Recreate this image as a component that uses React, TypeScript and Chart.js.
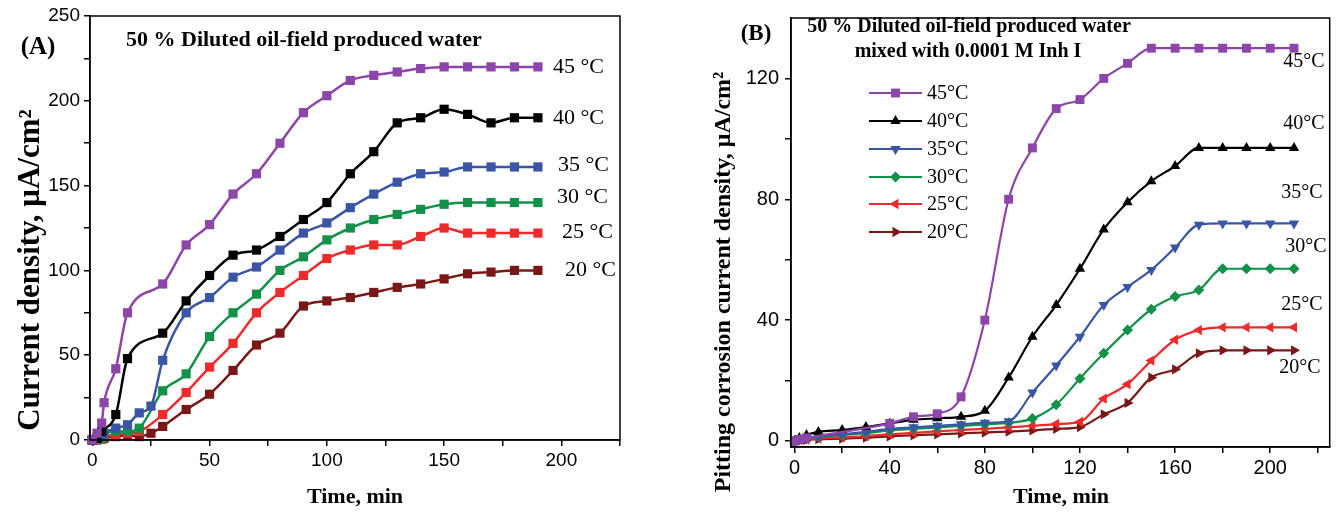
import React, { useEffect, useRef } from 'react';
import { Chart, registerables } from 'chart.js';
Chart.register(...registerables);

// ---------- Panel A data ----------
const timeA = [0, 2, 4, 5, 10, 15, 20, 25, 30, 40, 50, 60, 70, 80, 90, 100, 110, 120, 130, 140, 150, 160, 170, 180, 190];
const a45 = [0, 4, 10, 22, 42, 75, null, null, 92, 115, 127, 145, 157, 175, 193, 203, 212, 215, 217, 219, 220, 220, 220, 220, 220];
const a40 = [0, 1, 5, null, 15, 48, null, null, 63, 82, 97, 109, 112, 120, 130, 140, 157, 170, 187, 190, 195, 192, 187, 190, 190];
const a35 = [0, 1, 2, 4, 7, 9, 16, 20, 47, 75, 84, 96, 102, 112, 122, 128, 137, 145, 152, 157, 158, 161, 161, 161, 161];
const a30 = [0, 0.5, 1, 3, 5, 5, 7, null, 29, 39, 61, 75, 86, 100, 108, 118, 125, 130, 133, 136, 139, 140, 140, 140, 140];
const a25 = [0, 0.5, 1, 2, 3, 4, 5, null, 15, 28, 43, 57, 75, 87, 97, 107, 112, 115, 115, 120, 125, 122, 122, 122, 122];
const a20 = [0, 0, 0.5, 1, 2, 3, 2, 4, 8, 18, 27, 41, 56, 63, 79, 82, 84, 87, 90, 92, 95, 98, 99, 100, 100];
const labelsA = ['45 °C', '40 °C', '35 °C', '30 °C', '25 °C', '20 °C'];

// ---------- Panel B data ----------
const timeB = [0, 2, 5, 10, 20, 30, 40, 50, 60, 70, 80, 90, 100, 110, 120, 130, 140, 150, 160, 170, 180, 190, 200, 210];
const b45 = [0, 0.5, 1, null, null, null, 5.8, 8, 9, 14.6, 40, 80, 97, 110, 113, 120, 125, 130, 130, 130, 130, 130, 130, 130];
const b40 = [0, 1, 2, 3, 3.6, 4.6, 5.8, 7, 7.5, 8, 10, 21, 34.5, 45, 57, 70, 79, 86, 91, 97, 97, 97, 97, 97];
const b35 = [0, 0.5, 1, 1.5, 2.2, 3, 4, 4.5, 5, 5.5, 6, 6.5, 16, 25, 34.5, 45, 51, 56.6, 64, 71.6, 72, 72, 72, 72];
const b30 = [0, 0.5, 1, 1.3, 2, 2.6, 3.5, 4, 4.5, 5, 5.5, 6, 7.4, 12, 20.7, 29, 36.7, 43.6, 47.8, 50, 57, 57, 57, 57];
const b25 = [0, 0.3, 0.5, 0.8, 1.2, 1.6, 2.2, 2.7, 3.2, 3.6, 4, 4.5, 5, 5.6, 6.3, 14, 18.8, 26.6, 33.5, 36.7, 37.6, 37.6, 37.6, 37.6];
const b20 = [0, 0.2, 0.4, 0.6, 0.8, 1.1, 1.5, 1.9, 2.2, 2.5, 2.8, 3.1, 3.5, 4, 4.6, 8.8, 12.6, 21, 23.7, 29, 30, 30, 30, 30];
const labelsB = ['45°C', '40°C', '35°C', '30°C', '25°C', '20°C'];

const colors = ['#8C45A8', '#000000', '#3A55A6', '#13904A', '#EE2A2A', '#7A1818'];

const SERIF = '"Liberation Serif", "Times New Roman", serif';
const SANS = '"Liberation Sans", Arial, sans-serif';

function toPoints(times: number[], vals: (number | null)[]) {
  const out: { x: number; y: number }[] = [];
  times.forEach((t, i) => {
    const v = vals[i];
    if (v !== null && v !== undefined) out.push({ x: t, y: v });
  });
  return out;
}

function makeTicks(step: number, upto: number) {
  return (s: any) => {
    const t: any[] = [];
    for (let v = 0; v <= upto + 1e-9; v += step) t.push({ value: v });
    s.ticks = t;
  };
}

type TextItem = { text: string; x: number; y: number; font: string; align?: CanvasTextAlign; rot?: number };

function textPlugin(items: TextItem[], extra?: (ctx: CanvasRenderingContext2D) => void) {
  return {
    id: 'texts',
    afterDraw(chart: any) {
      const ctx: CanvasRenderingContext2D = chart.ctx;
      const a = chart.chartArea;
      ctx.save();
      ctx.strokeStyle = '#000';
      ctx.lineWidth = 1.5;
      ctx.strokeRect(a.left, a.top, a.right - a.left, a.bottom - a.top);
      ctx.fillStyle = '#000';
      ctx.textBaseline = 'middle';
      for (const it of items) {
        ctx.save();
        ctx.font = it.font;
        ctx.textAlign = it.align || 'center';
        ctx.translate(it.x, it.y);
        if (it.rot) ctx.rotate(it.rot);
        ctx.fillText(it.text, 0, 0);
        ctx.restore();
      }
      if (extra) extra(ctx);
      ctx.restore();
    },
  };
}

function drawMarker(ctx: CanvasRenderingContext2D, style: string, rot: number, x: number, y: number, r: number, color: string) {
  ctx.save();
  ctx.fillStyle = color;
  ctx.beginPath();
  if (style === 'rect') {
    const s = r * Math.SQRT1_2;
    ctx.rect(x - s, y - s, 2 * s, 2 * s);
  } else if (style === 'rectRot') {
    ctx.moveTo(x, y - r);
    ctx.lineTo(x + r, y);
    ctx.lineTo(x, y + r);
    ctx.lineTo(x - r, y);
    ctx.closePath();
  } else {
    let rad = (rot * Math.PI) / 180;
    ctx.moveTo(x + Math.sin(rad) * r, y - Math.cos(rad) * r);
    rad += (2 * Math.PI) / 3;
    ctx.lineTo(x + Math.sin(rad) * r, y - Math.cos(rad) * r);
    rad += (2 * Math.PI) / 3;
    ctx.lineTo(x + Math.sin(rad) * r, y - Math.cos(rad) * r);
    ctx.closePath();
  }
  ctx.fill();
  ctx.restore();
}

const stylesB = ['rect', 'triangle', 'triangle', 'rectRot', 'triangle', 'triangle'];
const rotsB = [0, 0, 180, 0, -90, 90];
const radiiB = [6.3, 6, 6, 5.5, 6, 6];

const axisCommon = {
  grid: { drawOnChartArea: false, drawTicks: true, tickLength: 6, color: '#000', lineWidth: 1.5 },
  border: { display: true, color: '#000', width: 1.5 },
};

export default function App() {
  const refA = useRef<HTMLCanvasElement>(null);
  const refB = useRef<HTMLCanvasElement>(null);

  useEffect(() => {
    const seriesA = [a45, a40, a35, a30, a25, a20];
    const chartA = new Chart(refA.current as HTMLCanvasElement, {
      type: 'line',
      data: {
        datasets: seriesA.map((vals, i) => ({
          label: labelsA[i],
          data: toPoints(timeA, vals),
          borderColor: colors[i],
          backgroundColor: colors[i],
          borderWidth: 2.5,
          pointStyle: 'rect',
          pointRadius: 6.5,
          pointBorderWidth: 0,
          pointBackgroundColor: colors[i],
          cubicInterpolationMode: 'monotone',
          clip: false,
        })) as any,
      },
      options: {
        animation: false,
        responsive: false,
        maintainAspectRatio: false,
        devicePixelRatio: 1,
        events: [],
        layout: { padding: { left: 0, right: 716, top: 16, bottom: 0 } },
        plugins: { legend: { display: false }, tooltip: { enabled: false }, title: { display: false } },
        scales: {
          x: {
            type: 'linear',
            min: -1,
            max: 225,
            afterBuildTicks: makeTicks(25, 225),
            afterFit: (s: any) => {
              s.height = 73;
            },
            ticks: {
              autoSkip: false,
              maxRotation: 0,
              padding: 3,
              color: '#000',
              font: { family: SANS, size: 19 },
              callback: (v: any) => (Number(v) % 50 === 0 ? String(v) : ''),
            },
            ...axisCommon,
          },
          y: {
            type: 'linear',
            min: 0,
            max: 250,
            afterBuildTicks: makeTicks(25, 250),
            afterFit: (s: any) => {
              s.width = 90;
            },
            ticks: {
              autoSkip: false,
              padding: 4,
              color: '#000',
              font: { family: SANS, size: 19 },
              callback: (v: any) => (Number(v) % 50 === 0 ? String(v) : ''),
            },
            ...axisCommon,
          },
        },
      } as any,
      plugins: [
        textPlugin([
          { text: '(A)', x: 38, y: 48, font: `bold 25px ${SERIF}` },
          { text: '50 % Diluted oil-field produced water', x: 126, y: 40, font: `bold 22px ${SERIF}`, align: 'left' },
          { text: 'Current density, μA/cm²', x: 31, y: 270, font: `bold 31px ${SERIF}`, rot: -Math.PI / 2 },
          { text: 'Time, min', x: 355, y: 497, font: `bold 22px ${SERIF}` },
          { text: labelsA[0], x: 553, y: 67, font: `22px ${SERIF}`, align: 'left' },
          { text: labelsA[1], x: 553, y: 118, font: `22px ${SERIF}`, align: 'left' },
          { text: labelsA[2], x: 558, y: 165, font: `22px ${SERIF}`, align: 'left' },
          { text: labelsA[3], x: 557, y: 197, font: `22px ${SERIF}`, align: 'left' },
          { text: labelsA[4], x: 562, y: 232, font: `22px ${SERIF}`, align: 'left' },
          { text: labelsA[5], x: 565, y: 270, font: `22px ${SERIF}`, align: 'left' },
        ]) as any,
      ],
    });

    const seriesB = [b45, b40, b35, b30, b25, b20];
    const legendYs = [93, 121, 149, 177, 204, 232];
    const chartB = new Chart(refB.current as HTMLCanvasElement, {
      type: 'line',
      data: {
        datasets: seriesB.map((vals, i) => ({
          label: labelsB[i],
          data: toPoints(timeB, vals),
          borderColor: colors[i],
          backgroundColor: colors[i],
          borderWidth: 2.2,
          pointStyle: stylesB[i],
          pointRotation: rotsB[i],
          pointRadius: radiiB[i],
          pointBorderWidth: 0,
          pointBackgroundColor: colors[i],
          cubicInterpolationMode: 'monotone',
          clip: false,
        })) as any,
      },
      options: {
        animation: false,
        responsive: false,
        maintainAspectRatio: false,
        devicePixelRatio: 1,
        events: [],
        layout: { padding: { left: 700, right: 5, top: 11, bottom: 0 } },
        plugins: { legend: { display: false }, tooltip: { enabled: false }, title: { display: false } },
        scales: {
          x: {
            type: 'linear',
            min: -1.5,
            max: 225,
            afterBuildTicks: makeTicks(20, 220),
            afterFit: (s: any) => {
              s.height = 66;
            },
            ticks: {
              autoSkip: false,
              maxRotation: 0,
              padding: 3,
              color: '#000',
              font: { family: SANS, size: 20 },
              callback: (v: any) => (Number(v) % 40 === 0 ? String(v) : ''),
            },
            ...axisCommon,
          },
          y: {
            type: 'linear',
            min: -2,
            max: 140,
            afterBuildTicks: makeTicks(20, 120),
            afterFit: (s: any) => {
              s.width = 91;
            },
            ticks: {
              autoSkip: false,
              padding: 6,
              color: '#000',
              font: { family: SANS, size: 20 },
              callback: (v: any) => (Number(v) % 40 === 0 ? String(v) : ''),
            },
            ...axisCommon,
          },
        },
      } as any,
      plugins: [
        textPlugin(
          [
            { text: '(B)', x: 756, y: 34, font: `bold 23px ${SERIF}` },
            { text: '50 % Diluted oil-field produced water', x: 969, y: 27, font: `bold 20px ${SERIF}` },
            { text: 'mixed with 0.0001 M Inh I', x: 968, y: 52, font: `bold 20px ${SERIF}` },
            { text: 'Pitting corrosion current density, μA/cm²', x: 724, y: 282, font: `bold 24px ${SERIF}`, rot: -Math.PI / 2 },
            { text: 'Time, min', x: 1061, y: 497, font: `bold 22px ${SERIF}` },
            { text: labelsB[0], x: 1304, y: 62, font: `20px ${SERIF}` },
            { text: labelsB[1], x: 1304, y: 124, font: `20px ${SERIF}` },
            { text: labelsB[2], x: 1302, y: 193, font: `20px ${SERIF}` },
            { text: labelsB[3], x: 1306, y: 247, font: `20px ${SERIF}` },
            { text: labelsB[4], x: 1302, y: 305, font: `20px ${SERIF}` },
            { text: labelsB[5], x: 1300, y: 368, font: `20px ${SERIF}` },
          ],
          (ctx) => {
            ctx.font = `20px ${SERIF}`;
            ctx.textAlign = 'left';
            ctx.textBaseline = 'middle';
            labelsB.forEach((lab, i) => {
              const y = legendYs[i];
              ctx.strokeStyle = colors[i];
              ctx.lineWidth = 2.2;
              ctx.beginPath();
              ctx.moveTo(869, y);
              ctx.lineTo(922, y);
              ctx.stroke();
              drawMarker(ctx, stylesB[i], rotsB[i], 895.5, y, radiiB[i], colors[i]);
              ctx.fillStyle = '#000';
              ctx.fillText(lab, 927, y + 1);
            });
          }
        ) as any,
      ],
    });

    return () => {
      chartA.destroy();
      chartB.destroy();
    };
  }, []);

  return (
    <div style={{ position: 'fixed', left: 0, top: 0, width: 1336, height: 513, background: '#fff' }}>
      <canvas ref={refA} width={1336} height={513} style={{ position: 'absolute', left: 0, top: 0, width: 1336, height: 513 }} />
      <canvas ref={refB} width={1336} height={513} style={{ position: 'absolute', left: 0, top: 0, width: 1336, height: 513 }} />
    </div>
  );
}
